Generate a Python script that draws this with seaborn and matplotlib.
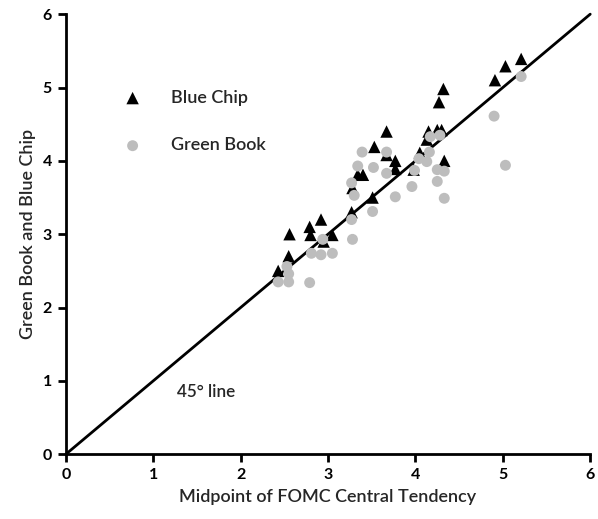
import numpy as np
import pandas as pd
import seaborn as sns
import matplotlib.pyplot as plt

# Blue Chip forecasts vs FOMC central tendency midpoint
bc_x = [2.43, 2.55, 2.56, 2.79, 2.80, 2.92, 2.95, 3.05, 3.27, 3.28, 3.34, 3.40, 3.51, 3.53, 3.67,
        3.67, 3.77, 3.77, 3.98, 4.05, 4.13, 4.15, 4.25, 4.30, 4.27, 4.32, 4.33, 4.91, 5.03, 5.21]
bc_y = [2.50, 2.70, 3.00, 3.10, 2.99, 3.20, 2.90, 2.99, 3.30, 3.63, 3.81, 3.81, 3.50, 4.19, 4.40,
        4.08, 4.00, 3.89, 3.88, 4.11, 4.29, 4.40, 4.42, 4.42, 4.80, 4.98, 4.00, 5.10, 5.29, 5.39]

# Green Book forecasts
gb_x = [2.43, 2.55, 2.55, 2.53, 2.79, 2.81, 2.92, 3.05, 2.94, 3.28, 3.27, 3.30, 3.27, 3.34, 3.39,
        3.52, 3.51, 3.67, 3.67, 3.77, 3.96, 3.99, 4.04, 4.13, 4.16, 4.17, 4.28, 4.25, 4.33, 4.25,
        4.33, 4.90, 5.03, 5.21]
gb_y = [2.35, 2.35, 2.46, 2.56, 2.34, 2.74, 2.72, 2.74, 2.93, 2.93, 3.20, 3.53, 3.70, 3.93, 4.12,
        3.91, 3.31, 3.83, 4.12, 3.51, 3.65, 3.87, 4.03, 3.99, 4.12, 4.33, 4.35, 3.88, 3.86, 3.72,
        3.49, 4.61, 3.94, 5.15]

line_pts = [0, 6]

bc = pd.DataFrame({'x': bc_x, 'y': bc_y})
gb = pd.DataFrame({'x': gb_x, 'y': gb_y})

sns.set_style("white")
plt.rcParams['font.family'] = ['Lato', 'DejaVu Sans']

fig = plt.figure(figsize=(5.98, 5.19), dpi=100)
ax = fig.add_axes([0.110, 0.1247, 0.877, 0.848])

ax.plot(line_pts, line_pts, color='black', lw=2, zorder=1)
sns.scatterplot(data=bc, x='x', y='y', marker='^', s=80, color='black', edgecolor='none',
                label='Blue Chip', ax=ax, zorder=2)
sns.scatterplot(data=gb, x='x', y='y', marker='o', s=62, color='#bdbdbd', edgecolor='none',
                label='Green Book', ax=ax, zorder=3)

ax.set_xlim(0, 6)
ax.set_ylim(0, 6)
ax.set_xticks(range(7))
ax.set_yticks(range(7))
for s in ['top', 'right']:
    ax.spines[s].set_visible(False)
for s in ['left', 'bottom']:
    ax.spines[s].set_linewidth(2)
    ax.spines[s].set_color('black')
ax.tick_params(direction='out', length=6, width=2, labelsize=11.5, colors='black', pad=4,
               left=True, bottom=True)
for lab in ax.get_xticklabels() + ax.get_yticklabels():
    lab.set_fontweight('bold')

ax.set_xlabel('Midpoint of FOMC Central Tendency', fontsize=13, fontweight='semibold', labelpad=5)
ax.set_ylabel('Green Book and Blue Chip', fontsize=13, fontweight='semibold', labelpad=5)

ax.text(1.27, 0.85, '45° line', fontsize=12.3, fontweight='semibold', ha='left', va='center')

leg = ax.legend(frameon=False, loc='upper left', bbox_to_anchor=(0.062, 0.865),
                labelspacing=1.75, handletextpad=1.1, fontsize=13)
for t in leg.get_texts():
    t.set_fontweight('semibold')

for line in ax.lines:
    line.set_clip_on(False)

fig.savefig('out.png', dpi=100)
